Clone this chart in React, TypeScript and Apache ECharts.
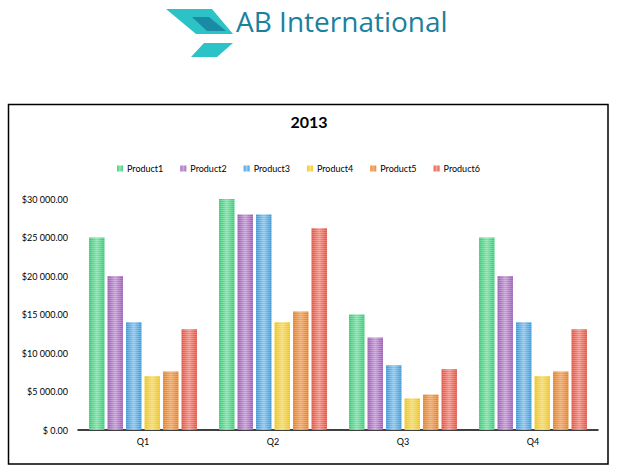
import React, { useRef, useEffect } from "react";
import * as echarts from "echarts";

// chart data
const quarters = ["Q1", "Q2", "Q3", "Q4"];
const products = ["Product1", "Product2", "Product3", "Product4", "Product5", "Product6"];
const product1 = [25000, 30000, 15000, 25000];
const product2 = [20000, 28000, 12000, 20000];
const product3 = [14000, 28000, 8400, 14000];
const product4 = [7000, 14000, 4100, 7000];
const product5 = [7600, 15400, 4600, 7600];
const product6 = [13100, 26200, 7900, 13100];
const yTicks = [0, 5000, 10000, 15000, 20000, 25000, 30000];

const seriesValues = [product1, product2, product3, product4, product5, product6];
const baseColors = ["#2ecc71", "#9b59b6", "#3498db", "#f1c40f", "#e67e22", "#e74c3c"];
const lightColors = ["#84e2ab", "#c59fd6", "#8ec6ee", "#f6dc70", "#f1aa6c", "#f29386"];

const money = (v: number) => {
  if (v === 0) return "$ 0.00";
  return "$" + String(v).replace(/\B(?=(\d{3})+(?!\d))/g, " ") + ".00";
};

const barFill = (i: number) =>
  new echarts.graphic.LinearGradient(0, 0, 1, 0, [
    { offset: 0, color: baseColors[i] },
    { offset: 0.5, color: lightColors[i] },
    { offset: 1, color: baseColors[i] },
  ]);

const stripes = {
  symbol: "rect",
  symbolSize: 1,
  color: "rgba(255,255,255,0.22)",
  dashArrayX: [1, 0],
  dashArrayY: [1, 1],
  rotation: 0,
};

const App = () => {
  const chartRef = useRef<HTMLDivElement>(null);

  useEffect(() => {
    const chart = echarts.init(chartRef.current, null, { renderer: "svg" });
    const font = "Lato, 'Liberation Sans', sans-serif";
    chart.setOption({
      animation: false,
      aria: { enabled: true, decal: { show: true } },
      title: {
        text: "2013",
        left: "center",
        top: 108,
        textStyle: { fontSize: 16, fontWeight: "bold", color: "#000", fontFamily: font },
      },
      legend: {
        data: products,
        left: 112,
        top: 159,
        icon: "rect",
        itemWidth: 6,
        itemHeight: 6,
        itemGap: 17,
        textStyle: { fontSize: 9, color: "#000", fontFamily: font, padding: [0, 0, 0, -1] },
      },
      grid: { left: 78, right: 20, top: 199, bottom: 46 },
      xAxis: {
        type: "category",
        data: quarters,
        axisLine: { lineStyle: { color: "#000", width: 1.5 } },
        axisTick: { show: false },
        axisLabel: { fontSize: 9, color: "#000", fontFamily: font, margin: 7 },
      },
      yAxis: {
        type: "value",
        min: 0,
        max: yTicks[yTicks.length - 1],
        interval: yTicks[1] - yTicks[0],
        splitLine: { show: false },
        axisLine: { show: false },
        axisTick: { show: false },
        axisLabel: { fontSize: 9, color: "#000", fontFamily: font, margin: 10, formatter: money },
      },
      series: seriesValues.map((vals, i) => ({
        name: products[i],
        type: "bar",
        data: vals,
        barGap: "20%",
        barCategoryGap: "17%",
        itemStyle: { color: barFill(i), decal: stripes },
      })),
      graphic: [
        {
          type: "rect",
          shape: { x: 8.5, y: 104.5, width: 599.5, height: 359.5 },
          style: { fill: "none", stroke: "#000", lineWidth: 1.5 },
          silent: true,
        },
        {
          type: "polygon",
          shape: { points: [[166, 9], [212, 9], [233, 34], [196, 34]] },
          style: { fill: "#2cc3c7" },
        },
        {
          type: "polygon",
          shape: { points: [[192, 17], [209, 17], [226, 31], [207, 31]] },
          style: { fill: "#1b8aa5" },
        },
        {
          type: "polygon",
          shape: { points: [[204, 43], [233, 43], [217, 57], [191, 57]] },
          style: { fill: "#2cc3c7" },
        },
        {
          type: "text",
          left: 236,
          top: 7,
          style: {
            text: "AB International",
            fontSize: 28,
            fontWeight: 400,
            fontFamily: "'Open Sans', Lato, sans-serif",
            fill: "#1b7fa0",
          },
        },
      ],
    });
    return () => {
      chart.dispose();
    };
  }, []);

  return (
    <div
      ref={chartRef}
      style={{ position: "absolute", left: 0, top: 0, width: 618, height: 476, background: "#fff" }}
    />
  );
};

export default App;
